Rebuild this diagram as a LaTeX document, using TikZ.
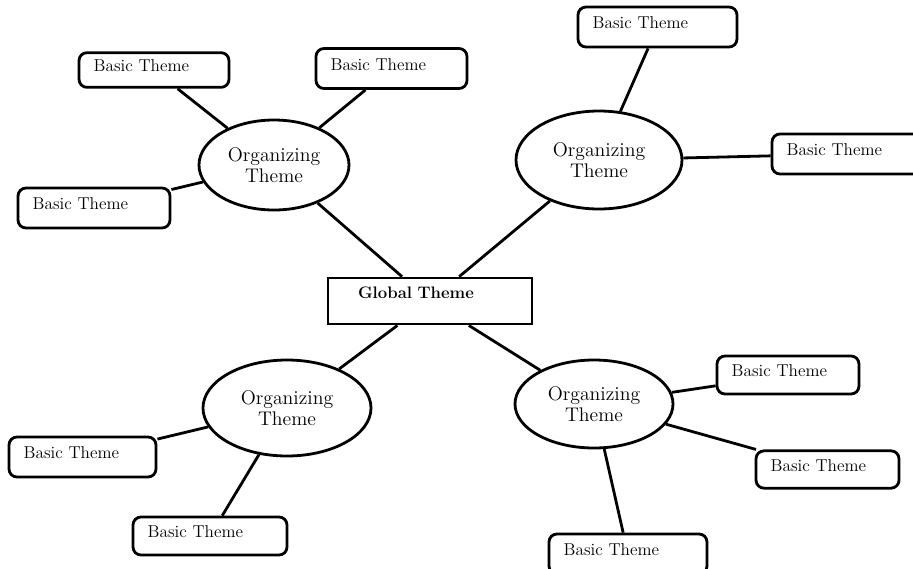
\documentclass[tikz,border=0pt]{standalone}
\usepackage{fontspec}
\usetikzlibrary{shapes.geometric}
\begin{document}
\begin{tikzpicture}[x=0.75pt,y=-0.75pt,
        organizing/.style={draw, ellipse, line width=2.1pt, inner sep=0pt, align=center,
            font=\fontsize{14.8}{15.75}\selectfont},
        basic/.style={draw, rounded corners=6pt, line width=2.1pt, minimum height=30pt,
            inner xsep=11pt, inner ysep=2pt, text width=#1, text depth=6pt, align=left,
            font=\fontsize{12.9}{14}\selectfont},
        basic/.default=90pt,
        global/.style={draw, line width=2.1pt, minimum height=34.5pt, inner xsep=22.5pt,
            inner ysep=3pt, text width=108pt, text depth=12pt, align=left,
            font=\bfseries\fontsize{12.5}{14}\selectfont},
        link/.style={line width=2.1pt}]
            \useasboundingbox (0,0) rectangle (913,568);
            \clip (0,0) rectangle (913,568);
            % centre
            \node[global] (global) at (430,301) {Global Theme};
            % organizing themes
            \node[organizing, minimum width=112.5pt, minimum height=67.5pt] (orgNW) at (274,165) {Organizing\\Theme};
            \node[organizing, minimum width=124.5pt, minimum height=73.5pt] (orgNE) at (599,160) {Organizing\\Theme};
            \node[organizing, minimum width=126pt, minimum height=72pt] (orgSW) at (287,408) {Organizing\\Theme};
            \node[organizing, minimum width=118.5pt, minimum height=66pt] (orgSE) at (594,404) {Organizing\\Theme};
            % basic themes
            \node[basic=90.5pt, minimum height=26pt] (basicNWa) at (154,70) {Basic Theme};
            \node[basic=91.25pt] (basicNWb) at (391.5,68.5) {Basic Theme};
            \node[basic=92pt] (basicNWc) at (94,208) {Basic Theme};
            \node[basic=97.25pt] (basicNEa) at (657.5,27) {Basic Theme};
            \node[basic=90.5pt] (basicNEb) at (847,154) {Basic Theme};
            \node[basic=88.25pt] (basicSWa) at (82.5,457) {Basic Theme};
            \node[basic=93.5pt, minimum height=28.5pt] (basicSWb) at (210,536) {Basic Theme};
            \node[basic=84.5pt, minimum height=28.5pt] (basicSEa) at (788,375) {Basic Theme};
            \node[basic=85.25pt, minimum height=28pt] (basicSEb) at (827.5,469.5) {Basic Theme};
            \node[basic=96.5pt] (basicSEc) at (628,554) {Basic Theme};
            % links
            \draw[link] (global) -- (orgNW);
            \draw[link] (global) -- (orgNE);
            \draw[link] (global) -- (orgSW);
            \draw[link] (global) -- (orgSE);
            \foreach \b in {basicNWa,basicNWb,basicNWc}
            {
                \draw[link] (orgNW) -- (\b);
            };
            \foreach \b in {basicNEa,basicNEb}
            {
                \draw[link] (orgNE) -- (\b);
            };
            \foreach \b in {basicSWa,basicSWb}
            {
                \draw[link] (orgSW) -- (\b);
            };
            \foreach \b in {basicSEa,basicSEb,basicSEc}
            {
                \draw[link] (orgSE) -- (\b);
            };
        \end{tikzpicture}
\end{document}
